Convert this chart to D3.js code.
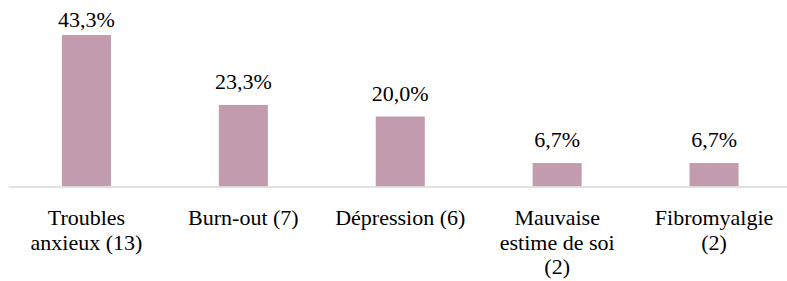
<!DOCTYPE html>
<html>
<head>
<meta charset="utf-8">
<script src="https://cdn.jsdelivr.net/npm/d3@7"></script>
<style>
  html, body { margin: 0; padding: 0; background: #fff; }
  svg { display: block; }
</style>
</head>
<body>
<div id="container"></div>
<script>
// categories (line breaks as in the picture)
const categories = [
  "Troubles\nanxieux (13)",
  "Burn-out (7)",
  "Dépression (6)",
  "Mauvaise\nestime de soi\n(2)",
  "Fibromyalgie\n(2)"
];
const values = [43.3, 23.3, 20.0, 6.7, 6.7];

const width = 787,
    height = 281;
const font = "Liberation Serif";

const fr = d3.formatLocale({decimal: ",", thousands: " ", grouping: [3], currency: ["", "€"]});
const fmt = v => fr.format(".1f")(v) + "%";

const svg = d3.select("#container").append("svg")
    .attr("width", width)
    .attr("height", height)
    .attr("font-family", font);

const x = d3.scaleBand()
    .domain(categories)
    .range([8, 792.5])
    .paddingInner(0.6875)
    .paddingOuter(0.34375);

const y = d3.scaleLinear()
    .domain([0, 45])
    .range([186.5, 29]);

svg.append("g")
    .selectAll("rect")
    .data(values)
    .enter()
    .append("rect")
    .attr("x", (d, i) => x(categories[i]))
    .attr("width", x.bandwidth())
    .attr("y", d => y(d))
    .attr("height", d => y(0) - y(d))
    .style("fill", "#c29bae");

// axis line + category labels
const axis = svg.append("g")
    .attr("transform", "translate(0," + y(0) + ")")
    .call(d3.axisBottom(x).tickSize(0).tickFormat(""))
    .attr("font-family", font);
axis.select(".domain").attr("stroke", "#d9d9d9").attr("stroke-width", 1.5);

axis.selectAll(".tick").each(function(d) {
  const t = d3.select(this).append("text")
      .attr("fill", "#000")
      .attr("text-anchor", "middle")
      .attr("font-family", font)
      .attr("font-size", 22);
  d.split("\n").forEach((line, j) => {
    t.append("tspan").attr("x", 0).attr("y", 38.5 + j * 24.5).text(line);
  });
});

// value labels (the first one is held inside the top of the plot)
svg.append("g")
    .selectAll("text")
    .data(values)
    .enter()
    .append("text")
    .attr("x", (d, i) => x(categories[i]) + x.bandwidth() / 2)
    .attr("y", d => Math.max(y(d) - 16, 27))
    .attr("text-anchor", "middle")
    .attr("font-family", font)
    .attr("font-size", 22)
    .text(fmt);
</script>
</body>
</html>
